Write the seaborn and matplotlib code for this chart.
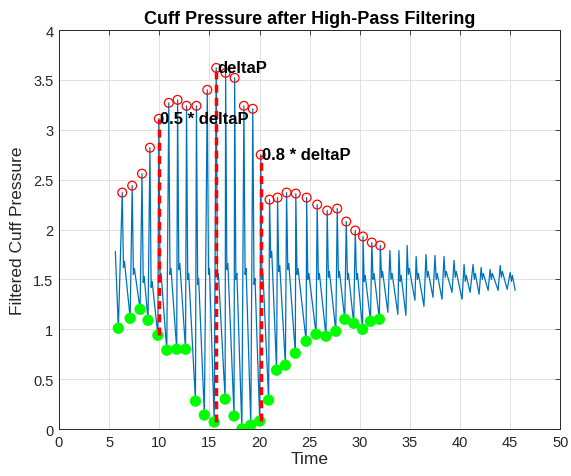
import numpy as np
import pandas as pd
import matplotlib
matplotlib.use('Agg')
import matplotlib.pyplot as plt
import seaborn as sns

# ============================================================
# DATA
# ============================================================

# detected beats: trough (green) and peak (red) of each pulse
trough_t = [5.92, 7.10, 8.09, 8.88, 9.86, 10.75, 11.74, 12.62, 13.61, 14.50,
            15.48, 16.57, 17.46, 18.24, 19.13, 20.02, 20.91, 21.70, 22.58, 23.57,
            24.65, 25.64, 26.63, 27.61, 28.50, 29.39, 30.28, 31.07, 31.95]
trough_v = [1.01, 1.11, 1.20, 1.09, 0.94, 0.79, 0.80, 0.80, 0.28, 0.14,
            0.07, 0.30, 0.13, 0.00, 0.04, 0.08, 0.29, 0.59, 0.64, 0.76,
            0.88, 0.95, 0.93, 0.98, 1.10, 1.06, 1.00, 1.08, 1.10]
peak_t = [6.31, 7.30, 8.28, 9.07, 9.96, 10.95, 11.83, 12.72, 13.71, 14.79,
          15.68, 16.62, 17.52, 18.44, 19.33, 20.12, 21.00, 21.80, 22.70, 23.62,
          24.70, 25.75, 26.75, 27.75, 28.65, 29.55, 30.32, 31.20, 32.05]
peak_v = [2.37, 2.44, 2.56, 2.82, 3.11, 3.27, 3.30, 3.24, 3.24, 3.40,
          3.62, 3.57, 3.52, 3.24, 3.21, 2.75, 2.30, 2.32, 2.37, 2.36,
          2.32, 2.25, 2.19, 2.21, 2.08, 1.99, 1.93, 1.87, 1.84]

# later, smaller pulses without markers
tail_trough_t = [32.80, 33.80, 34.60, 35.50, 36.40, 37.30, 38.20, 39.20, 40.20,
                 41.00, 41.90, 42.80, 43.80, 44.70]
tail_trough_v = [1.17, 1.15, 1.14, 1.29, 1.23, 1.32, 1.30, 1.37, 1.30,
                 1.37, 1.35, 1.39, 1.39, 1.40]
tail_peak_t = [33.00, 33.90, 34.72, 35.62, 36.60, 37.50, 38.40, 39.40, 40.40,
               41.30, 42.10, 43.00, 44.00, 45.00]
tail_peak_v = [1.79, 1.79, 1.84, 1.73, 1.75, 1.74, 1.73, 1.69, 1.65,
               1.65, 1.62, 1.60, 1.64, 1.57]

# dicrotic notch level after each peak (marked beats then tail beats)
notch_v = [1.62, 1.55, 1.47, 1.42, 1.50, 1.55, 1.60, 1.50, 1.45, 1.55,
           1.50, 1.60, 1.50, 1.55, 1.45, 1.50, 1.72, 1.58, 1.60, 1.55,
           1.50, 1.50, 1.52, 1.52, 1.50, 1.50, 1.48, 1.50, 1.52,
           1.50, 1.48, 1.55, 1.50, 1.52, 1.50, 1.52, 1.52, 1.48, 1.50,
           1.50, 1.50, 1.52, 1.48]

start_pt = (5.62, 1.78)
end_pt = (45.50, 1.39)

# beats marked with dashed lines and labels
mark_idx = [4, 10, 15]
mark_text = ['0.5 * deltaP', 'deltaP', '0.8 * deltaP']

# ============================================================
# BUILD WAVEFORM VERTICES
# ============================================================

all_tr_t = trough_t + tail_trough_t
all_tr_v = trough_v + tail_trough_v
all_pk_t = peak_t + tail_peak_t
all_pk_v = peak_v + tail_peak_v

wave_t = [start_pt[0]]
wave_v = [start_pt[1]]
for i in range(len(all_tr_t)):
    wave_t += [all_tr_t[i], all_pk_t[i], all_pk_t[i] + 0.12, all_pk_t[i] + 0.22]
    wave_v += [all_tr_v[i], all_pk_v[i], notch_v[i], notch_v[i] + 0.06]
wave_t.append(end_pt[0])
wave_v.append(end_pt[1])

wave = pd.DataFrame({'Time': wave_t, 'Pressure': wave_v})

# ============================================================
# PLOT
# ============================================================

sns.set_theme(style='whitegrid')
plt.rcParams['font.family'] = ['Liberation Sans', 'DejaVu Sans']

axcol = '#262626'
fig = plt.figure(figsize=(5.71, 4.77), dpi=100)
ax = fig.add_axes([0.1033, 0.0985, 0.878, 0.8365])
ax.set_facecolor('white')

sns.lineplot(data=wave, x='Time', y='Pressure', sort=False, estimator=None,
             color='#0072BD', linewidth=0.9, ax=ax, zorder=2)

sns.scatterplot(x=peak_t, y=peak_v, marker='o', s=40, facecolor='none',
                edgecolor='#FF0000', linewidth=0.9, ax=ax, zorder=3)
sns.scatterplot(x=trough_t, y=trough_v, marker='o', s=66, color='#00FF00',
                edgecolor='none', linewidth=0, ax=ax, zorder=4)

for i, label in zip(mark_idx, mark_text):
    ax.plot([peak_t[i], peak_t[i]], [trough_v[i], peak_v[i]], color='#FF0000',
            linewidth=2.5, linestyle=(0, (2.3, 1.5)), zorder=5)
    ax.text(peak_t[i] + 0.15, peak_v[i], label, fontsize=12, fontweight='bold',
            ha='left', va='center', color='black', zorder=6)

ax.set_xlim(0, 50)
ax.set_ylim(0, 4)
ax.set_xticks(np.arange(0, 51, 5))
ax.set_yticks(np.arange(0, 4.01, 0.5))
ax.set_yticklabels(['0', '0.5', '1', '1.5', '2', '2.5', '3', '3.5', '4'])

ax.grid(True, color='#dcdcdc', linewidth=0.6)
for s in ax.spines.values():
    s.set_color(axcol)
    s.set_linewidth(0.7)
ax.tick_params(direction='in', length=3.5, width=0.6, colors=axcol,
               labelsize=10.5, top=True, right=True, pad=4)

ax.set_title('Cuff Pressure after High-Pass Filtering', fontsize=13,
             fontweight='bold', color='black', pad=5)
ax.set_xlabel('Time', fontsize=12.5, color=axcol, labelpad=2)
ax.set_ylabel('Filtered Cuff Pressure', fontsize=12.5, color=axcol, labelpad=6)

fig.savefig('out.png', dpi=100, facecolor='white')
